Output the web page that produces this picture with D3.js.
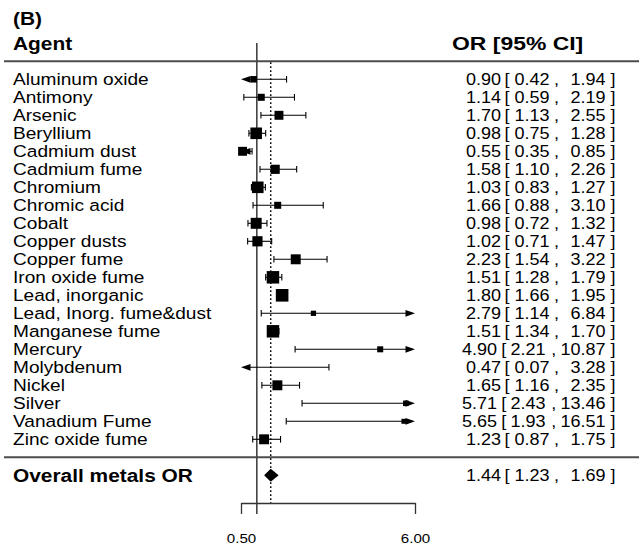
<!DOCTYPE html>
<html>
<head>
<meta charset="utf-8">
<script src="https://cdn.jsdelivr.net/npm/d3@7/dist/d3.min.js"></script>
<style>
  html, body { margin: 0; padding: 0; background: #fff; }
  svg text { font-family: "Liberation Sans", Arial, Helvetica, sans-serif; fill: #000; }
</style>
</head>
<body>
<svg id="chart" width="639" height="550"></svg>
<script>
// forest plot data (odds ratios)
var agents = ["Aluminum oxide", "Antimony", "Arsenic", "Beryllium", "Cadmium dust",
  "Cadmium fume", "Chromium", "Chromic acid", "Cobalt", "Copper dusts", "Copper fume",
  "Iron oxide fume", "Lead, inorganic", "Lead, Inorg. fume&dust", "Manganese fume",
  "Mercury", "Molybdenum", "Nickel", "Silver", "Vanadium Fume", "Zinc oxide fume"];
var orEst   = [0.90, 1.14, 1.70, 0.98, 0.55, 1.58, 1.03, 1.66, 0.98, 1.02, 2.23, 1.51, 1.80, 2.79, 1.51, 4.90, 0.47, 1.65, 5.71, 5.65, 1.23];
var ciLower = [0.42, 0.59, 1.13, 0.75, 0.35, 1.10, 0.83, 0.88, 0.72, 0.71, 1.54, 1.28, 1.66, 1.14, 1.34, 2.21, 0.07, 1.16, 2.43, 1.93, 0.87];
var ciUpper = [1.94, 2.19, 2.55, 1.28, 0.85, 2.26, 1.27, 3.10, 1.32, 1.47, 3.22, 1.79, 1.95, 6.84, 1.70, 10.87, 3.28, 2.35, 13.46, 16.51, 1.75];
// relative study weights (estimated from the square sizes)
var weights = [2.2, 2.6, 4.1, 6.2, 4.1, 4.3, 6.2, 2.6, 5.7, 5.1, 4.9, 6.9, 7.0, 1.2, 6.9, 1.8, 0.5, 4.9, 1.4, 1.0, 4.9];
var overallLabel = "Overall metals OR";
var overallEst = [1.44], overallLower = [1.23], overallUpper = [1.69];
var xTicks = [0.50, 6.00];

var svg = d3.select("#chart");

var x = d3.scaleLinear().domain([0.5, 6]).range([241, 415]);
var y = d3.scalePoint().domain(agents).range([79.3, 439.3]);
var step = y.step();
var yOverall = y(agents[agents.length - 1]) + 2 * step;
var yTopLine = y(agents[0]) - step;
var yBotLine = y(agents[agents.length - 1]) + step;
var size = d3.scaleLinear().domain([1, 7]).range([5, 12.6]).clamp(true);

// text in the figure is stretched a little horizontally
function label(px, py, str, fs, bold, anchor, sx) {
  svg.append("text")
    .attr("transform", "translate(" + px + "," + py + ") scale(" + sx + ",1)")
    .attr("font-size", fs)
    .attr("font-weight", bold ? "bold" : "normal")
    .attr("text-anchor", anchor || "start")
    .text(str);
}

function fmt(v) { return v.toFixed(2); }

// annotation columns: est [ lower , upper ]
function annot(cy, e, lo, hi) {
  var f = 16.4, s = 1.1;
  var hs = fmt(hi);
  var sh = hs.length > 4 ? -4 : 0; // longer upper bound pushes the left part over
  label(501 + sh, cy, fmt(e), f, false, "end", s);
  label(504.5 + sh * 0.8, cy, "[", f, false, "start", s);
  label(549.5 + sh, cy, fmt(lo), f, false, "end", s);
  label(554 + sh * 0.7, cy, ",", f, false, "start", s);
  label(605.5, cy, hs, f, false, "end", s);
  label(610.5, cy, "]", f, false, "start", s);
}

// headers
label(13, 24.5, "(B)", 18.5, true, "start", 1.13);
label(13, 49.5, "Agent", 18.5, true, "start", 1.13);
label(452, 49.5, "OR [95% CI]", 18.5, true, "start", 1.24);

// horizontal rules
svg.selectAll("line.rule").data([yTopLine, yBotLine]).enter().append("line")
  .attr("class", "rule")
  .attr("x1", 4).attr("x2", 639)
  .attr("y1", function(d) { return d; }).attr("y2", function(d) { return d; })
  .attr("stroke", "#4d4d4d").attr("stroke-width", 2);

// reference line at OR = 1 and dotted line at overall estimate
svg.append("line")
  .attr("x1", x(1)).attr("x2", x(1)).attr("y1", 43).attr("y2", 514)
  .attr("stroke", "#444").attr("stroke-width", 1.6);
svg.append("line")
  .attr("x1", x(overallEst[0])).attr("x2", x(overallEst[0]))
  .attr("y1", yTopLine + 1).attr("y2", 503)
  .attr("stroke", "#000").attr("stroke-width", 1.4)
  .attr("stroke-dasharray", "1.6,2.4");

// study rows
var xmin = x.domain()[0], xmax = x.domain()[1];
var rows = svg.append("g");
agents.forEach(function(a, i) {
  var cy = y(a);
  var lo = ciLower[i], hi = ciUpper[i], est = orEst[i];
  var x1 = x(Math.max(lo, xmin)), x2 = x(Math.min(hi, xmax));
  var ah = 9.5, aw = 3.4;
  var lineStart = lo < xmin ? x1 + ah - 1 : x1;
  var lineEnd = hi > xmax ? x2 - ah + 1 : x2;
  rows.append("line").attr("x1", lineStart).attr("x2", lineEnd)
    .attr("y1", cy).attr("y2", cy).attr("stroke", "#000").attr("stroke-width", 1.1);
  if (lo < xmin) {
    rows.append("path").attr("d", "M" + x1 + "," + cy + "L" + (x1 + ah) + "," + (cy - aw) + "L" + (x1 + ah) + "," + (cy + aw) + "Z").attr("fill", "#000");
  } else {
    rows.append("line").attr("x1", x1).attr("x2", x1).attr("y1", cy - 3.3).attr("y2", cy + 3.3).attr("stroke", "#000").attr("stroke-width", 1.1);
  }
  if (hi > xmax) {
    rows.append("path").attr("d", "M" + x2 + "," + cy + "L" + (x2 - ah) + "," + (cy - aw) + "L" + (x2 - ah) + "," + (cy + aw) + "Z").attr("fill", "#000");
  } else {
    rows.append("line").attr("x1", x2).attr("x2", x2).attr("y1", cy - 3.3).attr("y2", cy + 3.3).attr("stroke", "#000").attr("stroke-width", 1.1);
  }
  if (est >= xmin && est <= xmax) {
    var s = size(weights[i]);
    rows.append("rect").attr("x", x(est) - s / 2).attr("y", cy - s / 2)
      .attr("width", s).attr("height", s).attr("fill", "#000");
  }
  label(13, cy + 5.8, a, 16.6, false, "start", 1.15);
  annot(cy + 5.8, est, lo, hi);
});

// overall estimate
var ol = x(overallLower[0]), oe = x(overallEst[0]), ou = x(overallUpper[0]);
svg.append("path")
  .attr("d", "M" + ol + "," + yOverall + "L" + oe + "," + (yOverall - 6.5) + "L" + ou + "," + yOverall + "L" + oe + "," + (yOverall + 6.5) + "Z")
  .attr("fill", "#000");
label(13, yOverall + 6.6, overallLabel, 18.5, true, "start", 1.13);
annot(yOverall + 5.8, overallEst[0], overallLower[0], overallUpper[0]);

// x axis
var axis = svg.append("g").attr("transform", "translate(0,503)")
  .call(d3.axisBottom(x).tickValues(xTicks).tickSize(11).tickSizeOuter(0).tickPadding(19).tickFormat(d3.format(".2f")));
axis.select(".domain").attr("stroke", "#333").attr("stroke-width", 1.3);
axis.selectAll(".tick line").attr("stroke", "#333").attr("stroke-width", 1.3);
axis.selectAll(".tick text")
  .attr("font-size", 13.5)
  .attr("font-family", "Liberation Sans, Arial, sans-serif")
  .attr("fill", "#000")
  .attr("transform", "scale(1.12,1)");
</script>
</body>
</html>
